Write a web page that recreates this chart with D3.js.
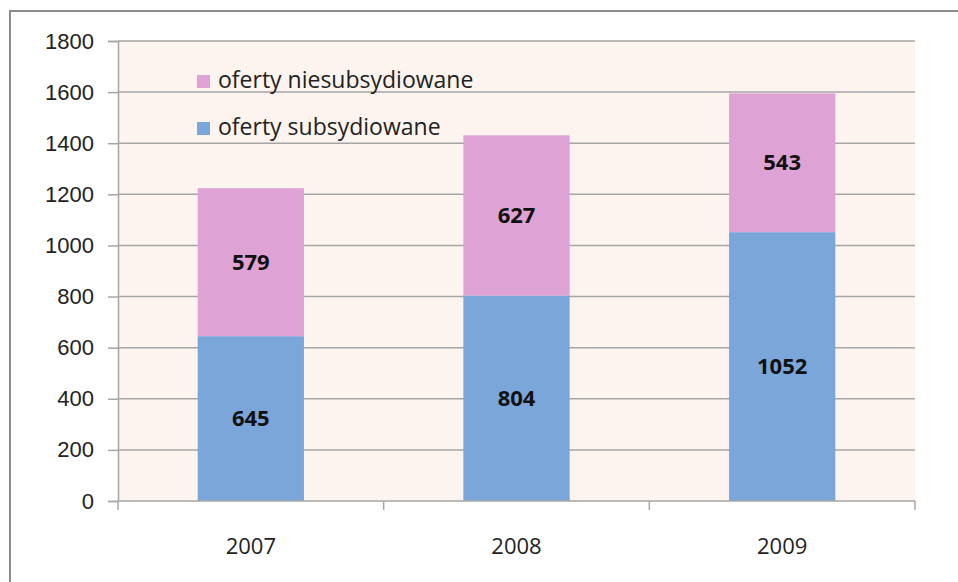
<!DOCTYPE html>
<html>
<head>
<meta charset="utf-8">
<script src="https://cdn.jsdelivr.net/npm/d3@7"></script>
<style>
  body { margin: 0; background: #fff; }
  svg { display: block; font-family: "Open Sans", Lato, sans-serif; }
</style>
</head>
<body>
<div id="chart"></div>
<script>
// Data
const years = ['2007', '2008', '2009'];
const subsidised = [645, 804, 1052];
const unsubsidised = [579, 627, 543];
const yTicks = [0, 200, 400, 600, 800, 1000, 1200, 1400, 1600, 1800];
const seriesNames = ['oferty niesubsydiowane', 'oferty subsydiowane'];

const width = 958, height = 582;
const margin = { top: 41, right: 43, bottom: 81, left: 118 };
const colors = { sub: '#7ba6da', unsub: '#dfa2d4', bg: '#fdf4ef', grid: '#a6a6a6' };
const fontSize = '22px';

const svg = d3.select('#chart').append('svg')
    .attr('width', width)
    .attr('height', height);

// Outer chart border
svg.append('path')
    .attr('d', `M${width + 5},11H10V${height + 5}`)
    .attr('fill', 'none')
    .attr('stroke', '#8c8c8c')
    .attr('stroke-width', 2);

const x = d3.scaleBand()
    .domain(years)
    .range([margin.left, width - margin.right])
    .paddingInner(0.6)
    .paddingOuter(0.3);

const y = d3.scaleLinear()
    .domain([0, 1800])
    .range([height - margin.bottom, margin.top]);

// Plot background
svg.append('rect')
    .attr('x', margin.left)
    .attr('y', margin.top)
    .attr('width', width - margin.right - margin.left)
    .attr('height', y(0) - margin.top)
    .attr('fill', colors.bg);

// Gridlines
svg.append('g')
    .selectAll('line')
    .data(yTicks.filter(d => d > 0))
    .join('line')
    .attr('x1', margin.left)
    .attr('x2', width - margin.right)
    .attr('y1', d => y(d))
    .attr('y2', d => y(d))
    .attr('stroke', colors.grid)
    .attr('stroke-width', 1.5);

// Y axis
const yAxis = svg.append('g')
    .attr('transform', `translate(${margin.left},0)`)
    .call(d3.axisLeft(y).tickValues(yTicks).tickFormat(d3.format('d')).tickSize(10).tickPadding(14));
yAxis.select('.domain').attr('stroke', colors.grid).attr('stroke-width', 1.5);
yAxis.selectAll('.tick line').attr('stroke', colors.grid).attr('stroke-width', 1.5);
yAxis.selectAll('.tick text')
    .attr('fill', '#222')
    .style('font-size', fontSize);

// Stacked bars
const barGroups = svg.append('g')
    .selectAll('g')
    .data(years.map((yr, i) => ({ yr, sub: subsidised[i], unsub: unsubsidised[i] })))
    .join('g');

barGroups.append('rect')
    .attr('x', d => x(d.yr))
    .attr('width', x.bandwidth())
    .attr('y', d => y(d.sub))
    .attr('height', d => y(0) - y(d.sub))
    .attr('fill', colors.sub);

barGroups.append('rect')
    .attr('x', d => x(d.yr))
    .attr('width', x.bandwidth())
    .attr('y', d => y(d.sub + d.unsub))
    .attr('height', d => y(d.sub) - y(d.sub + d.unsub))
    .attr('fill', colors.unsub);

// Value labels
barGroups.append('text')
    .attr('x', d => x(d.yr) + x.bandwidth() / 2)
    .attr('y', d => y(d.sub / 2))
    .attr('dy', '0.35em')
    .attr('text-anchor', 'middle')
    .style('font-size', fontSize)
    .style('font-weight', 'bold')
    .attr('fill', '#111')
    .text(d => d.sub);

barGroups.append('text')
    .attr('x', d => x(d.yr) + x.bandwidth() / 2)
    .attr('y', d => y(d.sub + d.unsub / 2))
    .attr('dy', '0.35em')
    .attr('text-anchor', 'middle')
    .style('font-size', fontSize)
    .style('font-weight', 'bold')
    .attr('fill', '#111')
    .text(d => d.unsub);

// X axis
const xEdges = d3.scaleLinear().domain([0, years.length]).range([margin.left, width - margin.right]);
const xAxisG = svg.append('g').attr('transform', `translate(0,${y(0)})`);
xAxisG.append('line')
    .attr('x1', margin.left).attr('x2', width - margin.right)
    .attr('stroke', colors.grid).attr('stroke-width', 1.5);
xAxisG.selectAll('.xtick')
    .data(d3.range(years.length + 1))
    .join('line')
    .attr('class', 'xtick')
    .attr('x1', d => xEdges(d)).attr('x2', d => xEdges(d))
    .attr('y1', 0).attr('y2', 9)
    .attr('stroke', colors.grid).attr('stroke-width', 1.5);
xAxisG.selectAll('.xlabel')
    .data(years)
    .join('text')
    .attr('class', 'xlabel')
    .attr('x', d => x(d) + x.bandwidth() / 2)
    .attr('y', 53)
    .attr('text-anchor', 'middle')
    .style('font-size', fontSize)
    .attr('fill', '#222')
    .text(d => d);

// Legend (no background, sits over gridlines)
const legend = svg.append('g').attr('transform', 'translate(197,75)');
const legendItems = legend.selectAll('g')
    .data(seriesNames)
    .join('g')
    .attr('transform', (d, i) => `translate(0,${i * 47})`);
legendItems.append('rect')
    .attr('width', 13).attr('height', 13)
    .attr('fill', (d, i) => i === 0 ? colors.unsub : colors.sub);
legendItems.append('text')
    .attr('x', 21)
    .attr('y', 13)
    .style('font-size', '23px')
    .attr('fill', '#222')
    .text(d => d);
</script>
</body>
</html>
